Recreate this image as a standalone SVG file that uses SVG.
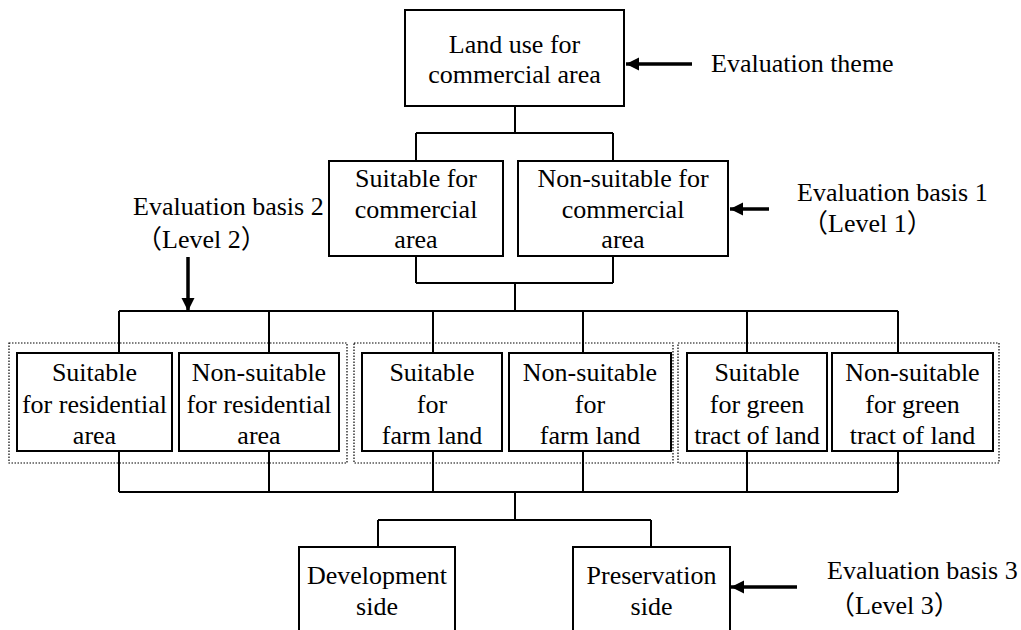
<svg xmlns="http://www.w3.org/2000/svg" width="1021" height="630" viewBox="0 0 1021 630" font-family="'Liberation Serif', 'Times New Roman', Times, serif" font-size="26">
<style>
.box{fill:#fff;stroke:#000;stroke-width:2}
.grp{fill:none;stroke:#000;stroke-width:1.2;stroke-dasharray:1.5 1.5}
.con{fill:none;stroke:#000;stroke-width:2}
.arr{fill:none;stroke:#000;stroke-width:3.5}
.c{text-anchor:middle}
</style>
<defs>
<marker id="ah" markerUnits="userSpaceOnUse" markerWidth="14" markerHeight="14" refX="13" refY="7" orient="auto">
<path d="M0,0.5 L13,7 L0,13.5 z" fill="#000"/>
</marker>
</defs>
<rect width="1021" height="630" fill="#fff"/>
<g id="groups">
<rect class="grp" x="9" y="343" width="338" height="120"/>
<rect class="grp" x="354" y="343" width="319" height="120"/>
<rect class="grp" x="678" y="343" width="321" height="120"/>
</g>
<g id="connectors">
<path class="con" d="M515,106 V133 M416,133 H613 M416,133 V161 M613,133 V161"/>
<path class="con" d="M416,256 V283 M613,256 V283 M416,283 H613 M515,283 V311"/>
<path class="con" d="M119,311 H898 M119,311 V353 M269,311 V353 M433,311 V353 M583,311 V353 M747,311 V353 M898,311 V353"/>
<path class="con" d="M119,451 V492 M269,451 V492 M433,451 V492 M583,451 V492 M747,451 V492 M898,451 V492 M119,492 H898 M515,492 V520"/>
<path class="con" d="M378,520 H651 M378,520 V547 M651,520 V547"/>
</g>
<g id="n-theme">
<rect class="box" x="405" y="10" width="219" height="96"/>
<text class="c" x="514.5" y="53">Land use for</text>
<text class="c" x="514.5" y="83">commercial area</text>
</g>
<g id="n-suit-com">
<rect class="box" x="329" y="161" width="174" height="95"/>
<text class="c" x="416" y="187">Suitable for</text>
<text class="c" x="416" y="218">commercial</text>
<text class="c" x="416" y="248">area</text>
</g>
<g id="n-non-com">
<rect class="box" x="518" y="161" width="210" height="95"/>
<text class="c" x="623" y="187">Non-suitable for</text>
<text class="c" x="623" y="218">commercial</text>
<text class="c" x="623" y="248">area</text>
</g>
<g id="n-suit-res">
<rect class="box" x="17" y="353" width="155" height="98"/>
<text class="c" x="94.5" y="381">Suitable</text>
<text class="c" x="94.5" y="413">for residential</text>
<text class="c" x="94.5" y="444">area</text>
</g>
<g id="n-non-res">
<rect class="box" x="179" y="353" width="160" height="98"/>
<text class="c" x="259" y="381">Non-suitable</text>
<text class="c" x="259" y="413">for residential</text>
<text class="c" x="259" y="444">area</text>
</g>
<g id="n-suit-farm">
<rect class="box" x="362" y="353" width="140" height="98"/>
<text class="c" x="432" y="381">Suitable</text>
<text class="c" x="432" y="413">for</text>
<text class="c" x="432" y="444">farm land</text>
</g>
<g id="n-non-farm">
<rect class="box" x="509" y="353" width="162" height="98"/>
<text class="c" x="590" y="381">Non-suitable</text>
<text class="c" x="590" y="413">for</text>
<text class="c" x="590" y="444">farm land</text>
</g>
<g id="n-suit-green">
<rect class="box" x="687" y="353" width="140" height="98"/>
<text class="c" x="757" y="381">Suitable</text>
<text class="c" x="757" y="413">for green</text>
<text class="c" x="757" y="444">tract of land</text>
</g>
<g id="n-non-green">
<rect class="box" x="832" y="353" width="161" height="98"/>
<text class="c" x="912.5" y="381">Non-suitable</text>
<text class="c" x="912.5" y="413">for green</text>
<text class="c" x="912.5" y="444">tract of land</text>
</g>
<g id="n-dev">
<rect class="box" x="299" y="547" width="156" height="100"/>
<text class="c" x="377" y="584">Development</text>
<text class="c" x="377" y="615">side</text>
</g>
<g id="n-pres">
<rect class="box" x="573" y="547" width="157" height="100"/>
<text class="c" x="651.5" y="584">Preservation</text>
<text class="c" x="651.5" y="615">side</text>
</g>
<g id="labels">
<path class="arr" d="M692,64 H626" marker-end="url(#ah)"/>
<text x="711" y="72">Evaluation theme</text>
<path class="arr" d="M769,209 H730" marker-end="url(#ah)"/>
<text x="797" y="201">Evaluation basis 1</text>
<text x="802" y="232" font-family="'Liberation Serif', 'Noto Sans CJK JP', serif">（Level 1）</text>
<path class="arr" d="M188,257 V311" marker-end="url(#ah)"/>
<text x="133" y="215">Evaluation basis 2</text>
<text x="136" y="248" font-family="'Liberation Serif', 'Noto Sans CJK JP', serif">（Level 2）</text>
<path class="arr" d="M797,587 H731" marker-end="url(#ah)"/>
<text x="827" y="579">Evaluation basis 3</text>
<text x="829" y="614" font-family="'Liberation Serif', 'Noto Sans CJK JP', serif">（Level 3）</text>
</g>
</svg>
